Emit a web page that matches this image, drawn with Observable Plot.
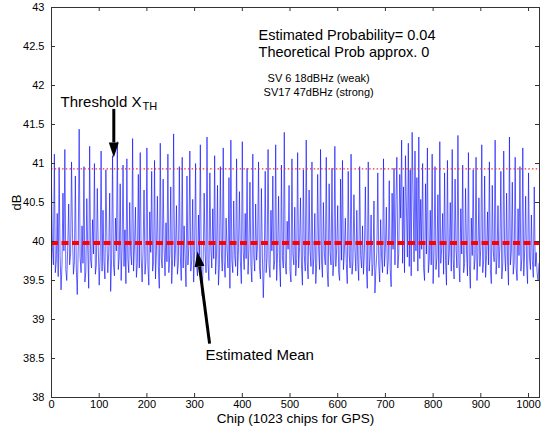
<!DOCTYPE html>
<html><head><meta charset="utf-8">
<script src="https://cdn.jsdelivr.net/npm/d3@7"></script>
<script src="https://cdn.jsdelivr.net/npm/@observablehq/plot@0.6"></script>
<style>body{margin:0;background:#fff}#chart{width:541px;height:428px}</style>
</head><body><div id="chart"></div>
<script>
// Received correlation power (dB), one sample every 2 chips
const chipStep = 2;
const signalDB = [
  40.74,39.92,39.70,41.12,39.60,39.75,40.36,39.55,40.95,39.82,39.38,39.70,40.62,39.88,41.18,39.64,39.50,39.92,40.48,39.70,39.84,41.02,40.10,39.58,39.74,40.84,39.66,39.32,39.90,41.44,39.80,39.60,
  40.20,39.72,40.96,39.48,39.62,40.55,39.90,39.40,41.22,39.76,39.66,40.28,39.84,41.00,39.58,39.70,40.68,39.92,39.44,39.80,41.16,39.62,40.40,39.74,39.52,40.92,40.05,39.60,39.86,40.62,39.36,39.78,
  41.10,39.70,39.56,40.30,39.88,41.28,39.64,39.80,40.74,39.50,39.92,40.98,39.68,40.15,39.46,41.06,39.78,39.60,40.50,39.84,39.70,41.32,39.62,39.94,40.44,39.54,39.72,40.86,39.66,41.14,39.80,39.48,
  39.90,40.66,39.58,39.76,41.20,39.70,39.44,40.38,39.86,40.90,39.62,39.74,41.04,39.52,39.88,40.58,39.68,39.40,41.26,39.80,39.66,40.80,39.92,39.56,40.24,39.74,41.12,39.60,39.84,40.70,39.46,39.78,
  41.38,39.68,39.90,40.46,39.58,39.72,40.96,39.84,39.50,41.08,39.66,40.20,39.80,39.42,40.84,39.70,39.94,41.16,39.62,39.76,40.54,39.48,39.88,41.00,39.70,39.56,40.34,39.82,41.24,39.64,39.30,39.78,
  40.62,39.86,39.60,41.34,39.72,39.50,40.88,39.92,39.66,40.42,39.78,41.10,39.58,39.84,40.72,39.44,39.70,40.96,39.88,39.62,41.20,39.74,39.54,40.30,39.90,39.66,40.82,39.40,41.30,39.76,39.60,40.52,
  39.82,39.68,41.06,39.56,39.92,40.64,39.74,39.46,41.28,39.86,39.64,40.36,39.78,40.94,39.58,39.90,40.76,39.70,39.48,41.12,39.82,39.62,40.48,39.76,39.94,41.02,39.66,39.52,40.68,39.84,39.28,39.72,
  40.90,39.60,39.80,41.18,39.70,39.54,40.40,39.88,40.84,39.64,39.76,41.24,39.50,39.86,40.58,39.72,39.42,40.98,39.80,39.66,41.40,39.74,39.58,40.26,39.90,40.72,39.62,39.48,41.06,39.84,39.70,40.44,
  39.56,39.78,41.14,39.66,39.92,40.56,39.70,39.44,40.92,39.82,39.62,41.30,39.74,39.52,40.66,39.88,39.68,41.02,39.58,39.80,40.36,39.46,39.72,40.86,39.90,39.64,41.18,39.76,39.54,40.50,39.84,39.70,
  41.08,39.62,39.42,40.74,39.86,39.70,40.94,39.56,39.78,41.22,39.68,39.92,40.46,39.60,39.50,40.80,39.76,41.04,39.64,39.88,40.30,39.72,39.46,40.90,39.84,39.66,41.12,39.58,39.74,40.60,39.90,39.62,
  40.40,39.74,39.50,40.96,39.82,39.66,40.20,39.58,39.88,40.70,39.70,39.40,41.02,39.62,39.80,40.34,39.56,39.72,40.52,39.34,39.64,39.86,40.88,39.70,39.48,40.28,39.78,39.60,41.06,39.68,39.92,40.44,
  39.58,39.76,40.78,39.64,39.42,40.62,39.90,40.94,39.70,40.48,41.08,39.66,39.84,40.86,40.30,41.30,39.72,40.70,39.60,41.10,40.44,39.80,41.26,39.68,40.92,39.56,41.40,40.60,39.74,41.16,39.88,40.82,
  39.62,41.34,39.78,40.54,39.90,41.00,39.66,39.50,40.74,39.84,41.20,39.60,39.76,40.40,39.70,41.12,39.46,39.88,40.96,39.64,39.80,40.60,39.54,41.28,39.72,39.92,40.36,39.58,40.88,39.76,39.44,41.04,
  39.70,39.86,40.50,39.62,41.18,39.78,39.52,40.80,39.90,39.66,41.36,39.74,39.48,40.42,39.84,40.98,39.60,39.72,40.68,39.88,39.56,41.14,39.70,39.40,40.30,39.82,40.92,39.64,39.78,41.08,39.50,39.86,
  40.56,39.68,39.92,41.24,39.60,39.76,40.84,39.54,39.82,40.38,39.70,41.02,39.64,39.46,40.72,39.88,39.74,41.30,39.58,39.80,40.46,39.66,39.94,40.90,39.52,39.72,41.16,39.84,39.62,40.62,39.76,39.44,
  41.34,39.70,39.86,40.76,39.58,39.74,41.08,39.66,39.50,40.42,39.82,40.96,39.62,39.78,41.20,39.56,39.90,40.58,39.70,39.46,40.88,39.80,39.64,40.34,39.76,39.54,40.70,39.68,39.86,39.60,39.50,39.72
];
const estimatedMean = [39.98];
const thresholdXTH = [40.93];
const xTicks = [0,100,200,300,400,500,600,700,800,900,1000];
const yTicks = [38,38.5,39,39.5,40,40.5,41,41.5,42,42.5,43];
const xLabel = "Chip (1023 chips for GPS)";
const yLabel = "dB";
const probLines = ["Estimated Probability= 0.04", "Theoretical Prob approx. 0"];
const svLines = ["SV 6 18dBHz (weak)", "SV17 47dBHz (strong)"];

const data = signalDB.map((v, i) => ({chip: i * chipStep, db: v}));

// narrow filled arrowhead, tip pointing up, base centred at the anchor
const arrowHead = {draw(ctx) { ctx.moveTo(0, -15); ctx.lineTo(-5, 0); ctx.lineTo(5, 0); ctx.closePath(); }};

const W = 541, H = 428, mL = 51, mR = 2, mT = 7, mB = 31;
const pw = W - mL - mR, ph = H - mT - mB, tk = 4;

const chart = Plot.plot({
  width: W, height: H,
  marginLeft: mL, marginRight: mR, marginTop: mT, marginBottom: mB,
  style: {fontFamily: "'Liberation Sans', Arial, Helvetica, sans-serif", fontSize: "11px", color: "#000", background: "#fff"},
  x: {domain: [0, 1023], ticks: xTicks, tickSize: 0, tickPadding: 3, tickFormat: d => String(d), label: null},
  y: {domain: [38, 43], ticks: yTicks, tickSize: 0, tickPadding: 7, tickFormat: d => String(d), label: null},
  marks: [
    Plot.line(data, {x: "chip", y: "db", stroke: "#0000ff", strokeWidth: 0.6}),
    Plot.ruleY(thresholdXTH, {stroke: "#ee3333", strokeWidth: 1.3, strokeDasharray: "1.5,2.2"}),
    Plot.ruleY(estimatedMean, {stroke: "#ff0000", strokeWidth: 4, strokeDasharray: "7,3.5"}),
    Plot.tickX(xTicks, {x: d => d, insetTop: ph - tk, stroke: "#333"}),
    Plot.tickX(xTicks, {x: d => d, insetBottom: ph - tk, stroke: "#333"}),
    Plot.tickY(yTicks, {y: d => d, insetRight: pw - tk, stroke: "#333"}),
    Plot.tickY(yTicks, {y: d => d, insetLeft: pw - tk, stroke: "#333"}),
    Plot.frame({stroke: "#333"}),
    // Threshold annotation
    Plot.text(["Threshold X"], {x: 19, y: 41.79, text: d => d, textAnchor: "start", fontSize: 15}),
    Plot.text(["TH"], {x: 19, y: 41.79, dx: 82, dy: 5, text: d => d, textAnchor: "start", fontSize: 11}),
    Plot.link([0], {x1: 130.6, y1: 41.70, x2: 130.6, y2: 41.27, stroke: "#000", strokeWidth: 3}),
    Plot.dot([0], {x: 130.6, y: 41.27, symbol: arrowHead, r: 5, fill: "#000", stroke: null, rotate: 180}),
    // Estimated mean annotation
    Plot.text(["Estimated Mean"], {x: 323, y: 38.54, text: d => d, textAnchor: "start", fontSize: 15}),
    Plot.link([0], {x1: 331.4, y1: 38.69, x2: 310.3, y2: 39.68, stroke: "#000", strokeWidth: 3}),
    Plot.dot([0], {x: 310.3, y: 39.68, symbol: arrowHead, r: 5, fill: "#000", stroke: null, rotate: -8}),
    // Probability text
    Plot.text(probLines, {x: 434, y: (d, i) => [42.645, 42.43][i], text: d => d, textAnchor: "start", fontSize: 14.5}),
    Plot.text(svLines, {x: 560, y: (d, i) => [42.09, 41.91][i], text: d => d, textAnchor: "middle", fontSize: 11}),
    // Axis titles
    Plot.text([xLabel], {frameAnchor: "bottom", dy: 21, lineAnchor: "middle", text: d => d, fontSize: 13.5}),
    Plot.text([yLabel], {frameAnchor: "left", dx: -35, rotate: -90, textAnchor: "middle", lineAnchor: "middle", text: d => d, fontSize: 13})
  ]
});
document.getElementById("chart").append(chart);
</script>
</body></html>
